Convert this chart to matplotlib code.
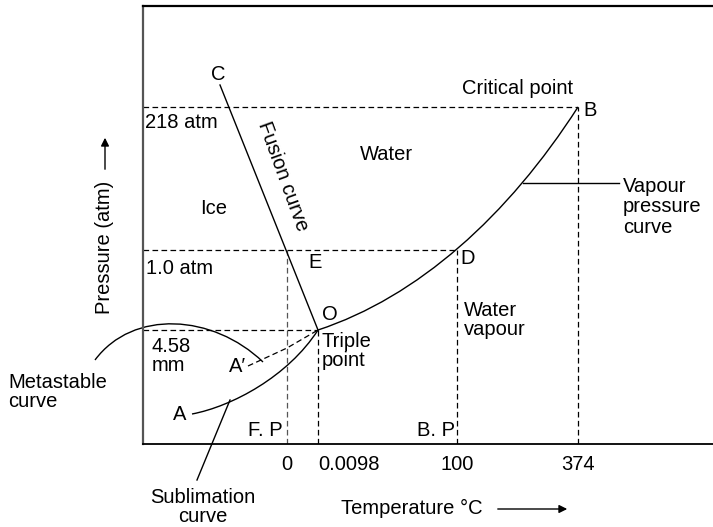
import matplotlib.pyplot as plt
import matplotlib.patches as mpatches
from matplotlib.path import Path

plt.rcParams['font.family'] = ['Liberation Sans', 'DejaVu Sans']
plt.rcParams['font.size'] = 14.5

# schematic units: x right of the pressure axis, y above the temperature axis
O = (175, 114)      # triple point
E = (144, 194)
D = (314, 194)
B = (435, 337)      # critical point
C = (77, 359)
A = (49, 30)
A2 = (105, 78)      # A'

x_fp, x_tp, x_bp, x_cp = 144, 175, 314, 435
y_tp, y_1atm, y_crit = 114, 194, 337

tick_pos = [x_fp, x_tp, x_bp, x_cp]
tick_lab = ["0", "0.0098", "100", "374"]

# curves, as bezier control points (start, c1, c2, end)
vap_ctrl = [O, (275, 147), (365, 228), B]
sub_ctrl = [A, (89, 37.6), (145, 67.5), O]
meta_ctrl = [(-48, 84), (-10, 135), (70, 130), (120, 82)]

metadash_x = [A2[0], 144, O[0]]
metadash_y = [A2[1], 96, O[1]]

fig = plt.figure(figsize=(7.13, 5.27), dpi=100)
ax = fig.add_axes([143/713, 83/527, 570/713, 438/527])
ax.set_xlim(0, 570)
ax.set_ylim(0, 438)

ax.spines['right'].set_visible(False)
ax.spines['left'].set_color('#555555')
ax.spines['left'].set_linewidth(1.6)
ax.spines['top'].set_linewidth(1.6)
ax.spines['bottom'].set_linewidth(1.3)

ax.set_yticks([])
ax.set_xticks(tick_pos, tick_lab)
ax.tick_params(axis='x', length=0, pad=8)
ax.get_xticklabels()[1].set_horizontalalignment('left')
ax.get_xticklabels()[1].set_x(x_tp - 6)

lw = 1.0
dash = (0, (4.5, 2.7))
k = dict(color='black', lw=0.9, ls=dash)

# dashed guide lines
ax.plot([0, x_cp], [y_crit, y_crit], **k)
ax.plot([x_cp, x_cp], [0, y_crit], **k)
ax.plot([0, x_bp], [y_1atm, y_1atm], **k)
ax.plot([x_bp, x_bp], [0, y_1atm], **k)
ax.plot([x_fp, x_fp], [0, y_1atm], color='#555555', lw=0.9, ls=dash)
ax.plot([0, x_tp], [y_tp, y_tp], **k)
ax.plot([x_tp, x_tp], [0, y_tp], **k)


def curve(pts, clip=True):
    codes = [Path.MOVETO, Path.CURVE4, Path.CURVE4, Path.CURVE4]
    p = mpatches.PathPatch(Path(pts, codes), facecolor='none',
                           edgecolor='black', lw=lw, clip_on=clip)
    ax.add_patch(p)


# phase boundaries
curve(vap_ctrl)
curve(sub_ctrl)
curve(meta_ctrl, clip=False)
ax.plot([C[0], O[0]], [C[1], O[1]], color='black', lw=lw)
ax.plot(metadash_x, metadash_y, color='black', lw=0.9, ls=dash)

# leader lines
ax.plot([87, 54], [44, -36], color='black', lw=lw, clip_on=False)
ax.plot([380, 476], [261, 261], color='black', lw=lw)

t = dict(fontsize=14.5, va='center')
ax.text(319, 355, "Critical point", ha='left', **t)
ax.text(440, 334, "B", ha='left', **t)
ax.text(75, 370, "C", ha='center', **t)
ax.text(2, 321, "218 atm", ha='left', **t)
ax.text(243, 290, "Water", ha='center', **t)
ax.text(71, 236, "Ice", ha='center', **t)
ax.text(140, 268, "Fusion curve", ha='center', rotation=-70,
        rotation_mode='anchor', **t)
ax.text(3, 176, "1.0 atm", ha='left', **t)
ax.text(172, 181, "E", ha='center', **t)
ax.text(317, 185, "D", ha='left', **t)
ax.text(187, 129, "O", ha='center', **t)
ax.text(179, 93, "Triple\npoint", ha='left', linespacing=1.05, **t)
ax.text(321, 124, "Water\nvapour", ha='left', linespacing=1.05, **t)
ax.text(9, 88, "4.58\nmm", ha='left', linespacing=1.05, **t)
ax.text(95, 78, "A\u2032", ha='center', **t)
ax.text(37, 29, "A", ha='center', **t)
ax.text(140, 14, "F. P", ha='right', **t)
ax.text(312, 13, "B. P", ha='right', **t)
ax.text(480, 237, "Vapour\npressure\ncurve", ha='left', linespacing=1.1, **t)
ax.text(-135, 52, "Metastable\ncurve", ha='left', linespacing=1.05, **t)
ax.text(60, -63, "Sublimation\ncurve", ha='center', linespacing=1.05, **t)

# axis titles with arrows
ax.text(-38, 197, "Pressure (atm)", ha='center', rotation=90, **t)
ax.annotate("", xy=(-38, 309), xytext=(-38, 272), annotation_clip=False,
            arrowprops=dict(arrowstyle='-|>', color='black', lw=1.0,
                            mutation_scale=12))
ax.text(340, -64, "Temperature \u00b0C", ha='right', **t)
ax.annotate("", xy=(427, -65), xytext=(352, -65), annotation_clip=False,
            arrowprops=dict(arrowstyle='-|>', color='black', lw=1.0,
                            mutation_scale=12))

fig.savefig("out.png", dpi=100)
